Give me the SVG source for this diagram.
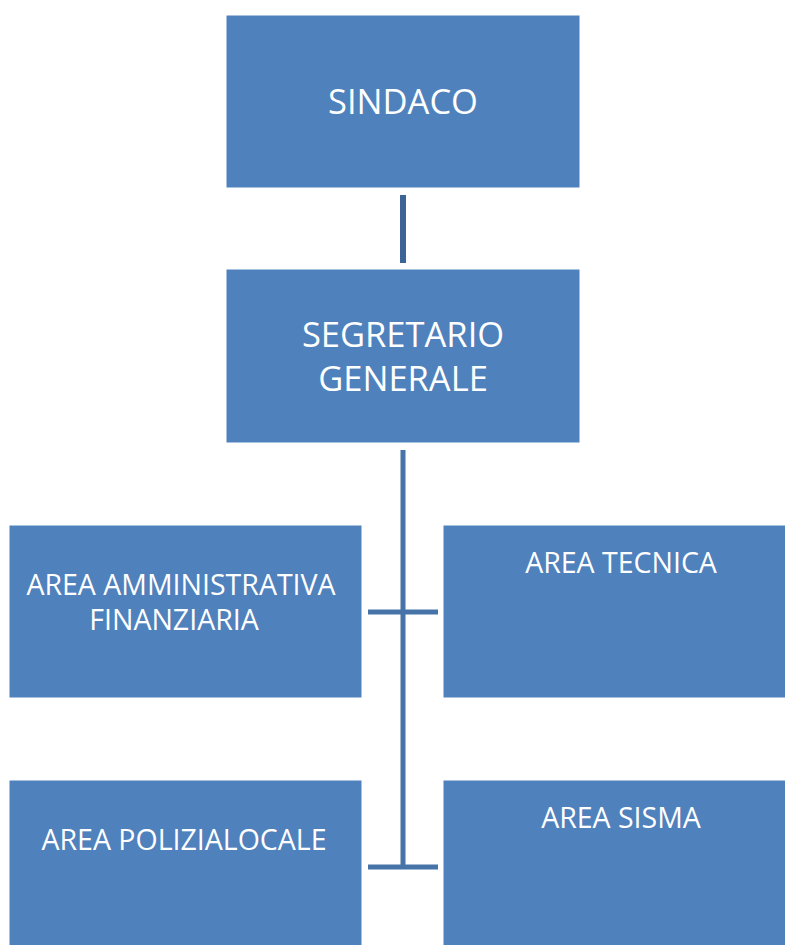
<svg xmlns="http://www.w3.org/2000/svg" width="785" height="945" viewBox="0 0 785 945">
<style>
.box{fill:#4f81bd;stroke:#ffffff;stroke-width:1}
.t{fill:#ffffff;font-family:"Open Sans","Liberation Sans",sans-serif;text-anchor:middle}
.big{font-size:34.5px}
.sm{font-size:28.5px}
.c{stroke:#4673a8;stroke-width:5;fill:none}
.c0{stroke:#3c6496;stroke-width:6;fill:none}
</style>
<rect width="785" height="945" fill="#ffffff"/>
<g id="connectors">
<line class="c0" x1="403" y1="195" x2="403" y2="263"/>
<line class="c" x1="403" y1="450" x2="403" y2="867"/>
<line class="c" x1="368" y1="612" x2="438" y2="612"/>
<line class="c" x1="368" y1="867" x2="438" y2="867"/>
</g>
<g id="sindaco">
<rect class="box" x="226" y="15" width="354" height="173"/>
<text class="t big" x="403" y="114">SINDACO</text>
</g>
<g id="segretario">
<rect class="box" x="226" y="269" width="354" height="174"/>
<text class="t big" x="403" y="347">SEGRETARIO</text>
<text class="t big" x="403" y="391">GENERALE</text>
</g>
<g id="area-amministrativa">
<rect class="box" x="9" y="525" width="353" height="173"/>
<text class="t sm" x="181" y="595">AREA AMMINISTRATIVA</text>
<text class="t sm" x="174" y="630">FINANZIARIA</text>
</g>
<g id="area-tecnica">
<rect class="box" x="443" y="525" width="353" height="173"/>
<text class="t sm" x="621" y="573">AREA TECNICA</text>
</g>
<g id="area-polizia">
<rect class="box" x="9" y="780" width="353" height="173"/>
<text class="t sm" x="184" y="850">AREA POLIZIALOCALE</text>
</g>
<g id="area-sisma">
<rect class="box" x="443" y="780" width="353" height="173"/>
<text class="t sm" x="621" y="828">AREA SISMA</text>
</g>
</svg>
